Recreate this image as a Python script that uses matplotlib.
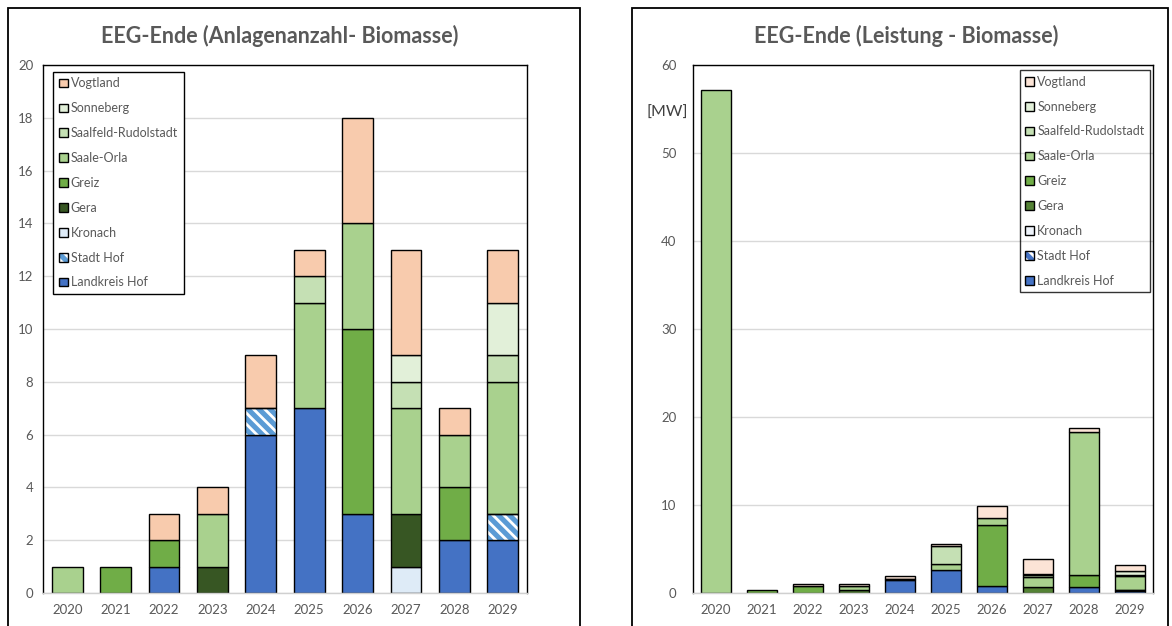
import numpy as np
import matplotlib
matplotlib.use('Agg')
import matplotlib.pyplot as plt
from matplotlib.patches import Patch, Rectangle
from matplotlib.legend_handler import HandlerTuple

# Jahre (Kategorien)
jahre = ['2020', '2021', '2022', '2023', '2024', '2025', '2026', '2027', '2028', '2029']

# Regionen in Stapelreihenfolge (unten -> oben)
regionen = ['Landkreis Hof', 'Stadt Hof', 'Kronach', 'Gera', 'Greiz',
            'Saale-Orla', 'Saalfeld-Rudolstadt', 'Sonneberg', 'Vogtland']

# Anlagenanzahl je Region
landkreis_hof_anz = [0, 0, 1, 0, 6, 7, 3, 0, 2, 2]
stadt_hof_anz = [0, 0, 0, 0, 1, 0, 0, 0, 0, 1]
kronach_anz = [0, 0, 0, 0, 0, 0, 0, 1, 0, 0]
gera_anz = [0, 0, 0, 1, 0, 0, 0, 2, 0, 0]
greiz_anz = [0, 1, 1, 0, 0, 0, 7, 0, 2, 0]
saale_orla_anz = [1, 0, 0, 2, 0, 4, 4, 4, 2, 5]
saalfeld_anz = [0, 0, 0, 0, 0, 1, 0, 1, 0, 1]
sonneberg_anz = [0, 0, 0, 0, 0, 0, 0, 1, 0, 2]
vogtland_anz = [0, 0, 1, 1, 2, 1, 4, 4, 1, 2]

# Leistung je Region [MW] (aus der Grafik geschaetzt)
landkreis_hof_mw = [0, 0, 0.05, 0, 1.45, 2.65, 0.85, 0, 0.65, 0.25]
stadt_hof_mw = [0, 0, 0, 0, 0.15, 0, 0, 0, 0, 0.1]
kronach_mw = [0, 0, 0, 0, 0, 0, 0, 0.05, 0, 0]
gera_mw = [0, 0, 0, 0.35, 0, 0, 0, 0.6, 0, 0]
greiz_mw = [0, 0.3, 0.7, 0, 0, 0, 6.85, 0, 1.4, 0]
saale_orla_mw = [57.2, 0, 0, 0.45, 0, 0.65, 0.8, 1.2, 16.3, 1.6]
saalfeld_mw = [0, 0, 0, 0, 0, 2.0, 0, 0.15, 0, 0.15]
sonneberg_mw = [0, 0, 0, 0, 0, 0, 0, 0.15, 0, 0.45]
vogtland_mw = [0, 0, 0.3, 0.25, 0.3, 0.3, 1.4, 1.7, 0.35, 0.6]

anzahl = [landkreis_hof_anz, stadt_hof_anz, kronach_anz, gera_anz, greiz_anz,
          saale_orla_anz, saalfeld_anz, sonneberg_anz, vogtland_anz]
leistung = [landkreis_hof_mw, stadt_hof_mw, kronach_mw, gera_mw, greiz_mw,
            saale_orla_mw, saalfeld_mw, sonneberg_mw, vogtland_mw]

farben_links = ['#4472C4', '#5B9BD5', '#DEEBF7', '#375623', '#70AD47',
                '#A9D18E', '#C5E0B4', '#E2F0D9', '#F8CBAD']
farben_rechts = ['#4472C4', '#4472C4', '#EEF3FA', '#548235', '#70AD47',
                 '#A9D18E', '#C5E0B4', '#E2F0D9', '#FCE4D6']

plt.rcParams['font.family'] = ['Lato', 'DejaVu Sans']
plt.rcParams['hatch.color'] = 'white'
plt.rcParams['hatch.linewidth'] = 2.0
grau = '#595959'
schraffur = '\\\\\\'


def zeichne_stapel(ax, daten, farben, breite):
    x = np.arange(len(jahre))
    unten = np.zeros(len(jahre))
    for i, werte in enumerate(daten):
        werte = np.array(werte, dtype=float)
        m = werte > 0
        if i == 1:
            # Stadt Hof: schraffiert
            ax.bar(x[m], werte[m], breite, bottom=unten[m], color=farben[i],
                   hatch=schraffur, linewidth=0, zorder=2)
            ax.bar(x[m], werte[m], breite, bottom=unten[m], fill=False,
                   edgecolor='black', linewidth=1.0, zorder=3)
        else:
            ax.bar(x[m], werte[m], breite, bottom=unten[m], color=farben[i],
                   edgecolor='black', linewidth=1.0, zorder=2)
        unten += werte
    ax.set_xticks(x)
    ax.set_xticklabels(jahre)
    ax.set_xlim(-0.5, len(jahre) - 0.5)


def legende(ax, farben, anker, loc, fuellen):
    handles = []
    for i, name in enumerate(regionen):
        if i == 1:
            h = (Patch(facecolor=farben[i], hatch=schraffur),
                 Patch(fill=False, edgecolor='black', linewidth=1.0))
        else:
            h = Patch(facecolor=farben[i], edgecolor='black', linewidth=1.0)
        handles.append(h)
    leg = ax.legend(handles[::-1], regionen[::-1], loc=loc, bbox_to_anchor=anker,
                    borderaxespad=0, fancybox=False, fontsize=9,
                    labelspacing=1.03, handlelength=0.7, handleheight=0.7,
                    handletextpad=0.25, borderpad=0.45, labelcolor=grau,
                    handler_map={tuple: HandlerTuple(ndivide=1)})
    leg.get_frame().set_edgecolor('black')
    leg.get_frame().set_linewidth(1.0)
    if fuellen:
        leg.get_frame().set_facecolor('white')
        leg.get_frame().set_alpha(1)
    else:
        leg.get_frame().set_facecolor('none')
    leg.set_zorder(5)


def achsen_stil(ax, ypad):
    for s in ['left', 'top', 'right']:
        ax.spines[s].set_color('black')
        ax.spines[s].set_linewidth(1.0)
    ax.spines['bottom'].set_color('#D0D0D0')
    ax.spines['bottom'].set_linewidth(1.0)
    ax.yaxis.grid(True, color='#D9D9D9', linewidth=1.0)
    ax.set_axisbelow(True)
    ax.tick_params(axis='both', length=0, labelsize=9.5, labelcolor=grau)
    ax.tick_params(axis='x', pad=8)
    ax.tick_params(axis='y', pad=ypad)


fig = plt.figure(figsize=(11.72, 6.26), dpi=100)

# Rahmen der beiden Diagramme
fig.add_artist(Rectangle((8 / 1172, -0.05), 572 / 1172, 1.037, transform=fig.transFigure,
                         fill=False, edgecolor='black', linewidth=1.3))
fig.add_artist(Rectangle((632 / 1172, -0.05), 536 / 1172, 1.037, transform=fig.transFigure,
                         fill=False, edgecolor='black', linewidth=1.3))

# Linkes Diagramm: Anlagenanzahl
ax1 = fig.add_axes([43 / 1172, 33 / 626, 484 / 1172, 528 / 626])
zeichne_stapel(ax1, anzahl, farben_links, 0.64)
ax1.set_ylim(0, 20)
ax1.set_yticks(range(0, 21, 2))
achsen_stil(ax1, 7)
legende(ax1, farben_links, (0.021, 0.987), 'upper left', True)
fig.text(280 / 1172, 1 - 36 / 626, 'EEG-Ende (Anlagenanzahl- Biomasse)', ha='center', va='center',
         fontsize=15.5, fontweight='bold', color=grau)

# Rechtes Diagramm: Leistung
ax2 = fig.add_axes([693 / 1172, 33 / 626, 460 / 1172, 528 / 626])
zeichne_stapel(ax2, leistung, farben_rechts, 0.65)
ax2.set_ylim(0, 60)
ax2.set_yticks(range(0, 61, 10))
achsen_stil(ax2, 12)
legende(ax2, farben_rechts, (0.9935, 0.9905), 'upper right', False)
fig.text(906 / 1172, 1 - 36 / 626, 'EEG-Ende (Leistung - Biomasse)', ha='center', va='center',
         fontsize=15.5, fontweight='bold', color=grau)
fig.text(667 / 1172, 1 - 113 / 626, '[MW]', ha='center', va='center', fontsize=11.5, color='#404040')

plt.savefig('out.png', dpi=100)
